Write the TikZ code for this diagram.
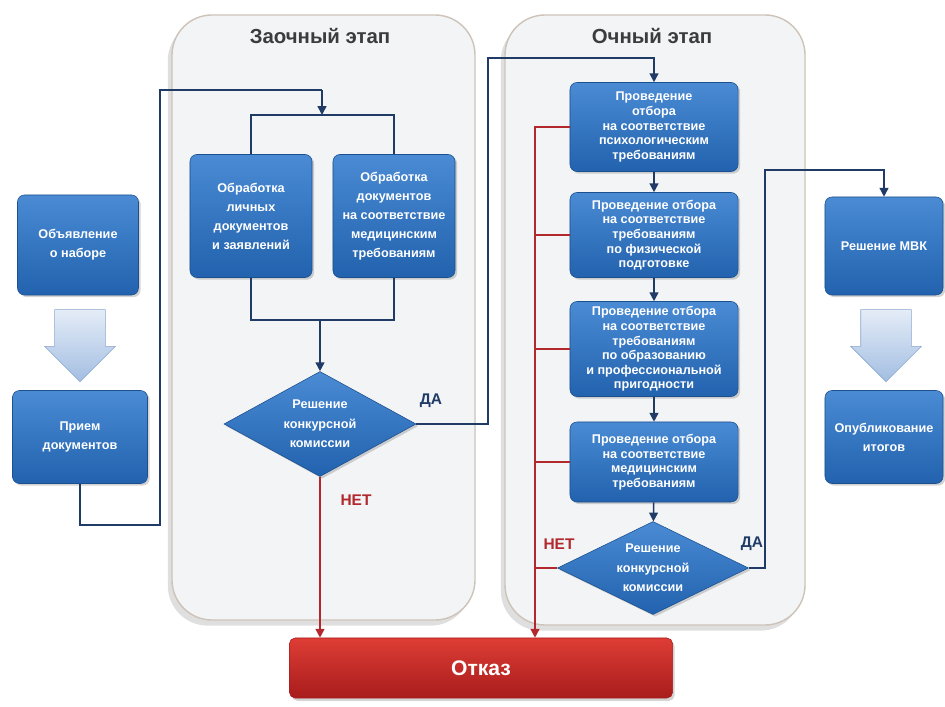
\documentclass[tikz,border=0pt]{standalone}
\usepackage{fontspec}
\setmainfont{Liberation Sans}
\usetikzlibrary{arrows.meta, shapes.geometric, shapes.arrows, shadows}
\definecolor{dnavy}{HTML}{1F3B66}
\definecolor{bblue}{HTML}{2262AE}
\definecolor{tblue}{HTML}{4A8BD4}
\definecolor{eblue}{HTML}{1B4F8E}
\definecolor{dred}{HTML}{B3282D}
\definecolor{rtop}{HTML}{DE3D35}
\definecolor{rbot}{HTML}{A81C1C}
\definecolor{pfill}{HTML}{F2F4F6}
\definecolor{pedge}{HTML}{CDC3B8}
\definecolor{atop}{HTML}{E4ECF7}
\definecolor{abot}{HTML}{A3BEE2}
\definecolor{aedge}{HTML}{8AA6CE}
\definecolor{tgray}{HTML}{3C3C3C}

\begin{document}
\begin{tikzpicture}[x=0.025cm, y=-0.025cm,
    panel/.style={draw=pedge, line width=1pt, fill=pfill, rounded corners=1cm, drop shadow={opacity=0.25, shadow xshift=-3pt, shadow yshift=-4pt}},
    block/.style={rectangle, draw=eblue, top color=tblue, bottom color=bblue, rounded corners=5pt, align=center, text=white, font=\fontsize{9}{13.5}\bfseries, inner sep=2pt, drop shadow={opacity=0.35, shadow xshift=1.5pt, shadow yshift=-1.5pt}},
    tight/.style={font=\fontsize{9}{10.4}\bfseries},
    decision/.style={diamond, aspect=1.8, inner sep=0pt, draw=eblue, top color=tblue, bottom color=bblue, align=center, text=white, font=\fontsize{9}{14}\bfseries, drop shadow={opacity=0.35, shadow xshift=1.5pt, shadow yshift=-1.5pt}},
    reject/.style={rectangle, draw=rbot, top color=rtop, bottom color=rbot, rounded corners=4pt, text=white, font=\fontsize{15}{17}\bfseries, drop shadow={opacity=0.35, shadow xshift=1.5pt, shadow yshift=-2pt}},
    bigarrow/.style={single arrow, shape border rotate=270, draw=aedge, top color=atop, bottom color=abot, minimum height=1.8cm, inner xsep=0.625cm, inner ysep=0pt, single arrow head extend=0.25cm},
    title/.style={font=\fontsize{14.5}{16}\bfseries, text=tgray},
    yes/.style={font=\fontsize{11}{13}\bfseries, text=dnavy},
    no/.style={font=\fontsize{11}{13}\bfseries, text=dred},
    line/.style={dnavy, line width=1.1pt},
    arr/.style={line, -{Triangle[length=2.2mm, width=2.2mm]}},
    redline/.style={dred, line width=1.1pt},
    redarr/.style={redline, -{Triangle[length=2.2mm, width=2.2mm]}},
]
\useasboundingbox (0,0) rectangle (945,707);

\draw[panel] (172,15) rectangle (475,620);
\draw[panel] (505,15) rectangle (805,625);
\node[title] (ttlA) at (320,36) {Заочный этап};
\node[title] (ttlB) at (652,36) {Очный этап};

\node[block, minimum width=3.025cm, minimum height=2.5cm] (announce) at (78,245) {Объявление\\о наборе};
\node[bigarrow] (downA) at (80,333) {};
\node[block, minimum width=3.375cm, minimum height=2.325cm] (accept) at (80,437) {Прием\\документов};

\node[block, minimum width=3.05cm, minimum height=3.075cm] (pers) at (251,216) {Обработка\\личных\\документов\\и заявлений};
\node[block, minimum width=3.05cm, minimum height=3.075cm] (med) at (394,216) {Обработка\\документов\\на соответствие\\медицинским\\требованиям};
\node[decision, minimum width=4.8cm, minimum height=2.625cm] (dec1) at (320,424) {Решение\\конкурсной\\комиссии};

\node[block, tight, minimum width=4.2cm, minimum height=2.225cm] (psych) at (654,127) {Проведение\\отбора\\на соответствие\\психологическим\\требованиям};
\node[block, tight, minimum width=4.2cm, minimum height=2.125cm] (phys) at (654,235) {Проведение отбора\\на соответствие\\требованиям\\по физической\\подготовке};
\node[block, tight, minimum width=4.2cm, minimum height=2.375cm] (edu) at (654,349) {Проведение отбора\\на соответствие\\требованиям\\по образованию\\и профессиональной\\пригодности};
\node[block, tight, minimum width=4.2cm, minimum height=2cm] (medreq) at (654,462) {Проведение отбора\\на соответствие\\медицинским\\требованиям};
\node[decision, minimum width=4.775cm, minimum height=2.325cm] (dec2) at (653,568) {Решение\\конкурсной\\комиссии};

\node[block, minimum width=2.95cm, minimum height=2.45cm] (mvk) at (884,246) {Решение МВК};
\node[bigarrow] (downB) at (886,333) {};
\node[block, minimum width=2.95cm, minimum height=2.325cm] (publ) at (884,437) {Опубликование\\итогов};

\node[reject, minimum width=9.575cm, minimum height=1.5cm] (refuse) at (481,668) {Отказ};

\coordinate (loopA) at (160,525);
\coordinate (loopB) at (322,90);
\coordinate (jtop) at (322,115);
\coordinate (jbot) at (320,320);
\coordinate (daA) at (488,58);
\coordinate (daB) at (765,170);
\coordinate (busx) at (535,0);

\draw[line] (accept.south) |- (loopA) |- (loopB);
\draw[arr] (loopB) -- (jtop);
\draw[line] (pers.north) |- (jtop) -| (med.north);
\draw[line] (pers.south) |- (jbot) -| (med.south);
\draw[arr] (jbot) -- (dec1.north);
\draw[arr] (dec1.east) -| (daA) -| (psych.north);
\draw[redarr] (dec1.south) -- (dec1.south |- refuse.north);

\draw[arr] (psych) -- (phys);
\draw[arr] (phys) -- (edu);
\draw[arr] (edu) -- (medreq);
\draw[arr] (medreq) -- (dec2);

\draw[redarr] (psych.west) -| (busx |- refuse.north);
\foreach \n in {phys, edu, medreq, dec2}
  \draw[redline] (\n.west) -- (\n.west -| busx);
\draw[arr] (dec2.east) -| (daB) -| (mvk.north);

\node[yes] (yesA) at (431,401) {ДА};
\node[no] (noA) at (356,500) {НЕТ};
\node[no] (noB) at (559,544) {НЕТ};
\node[yes] (yesB) at (752,544) {ДА};
\end{tikzpicture}
\end{document}
